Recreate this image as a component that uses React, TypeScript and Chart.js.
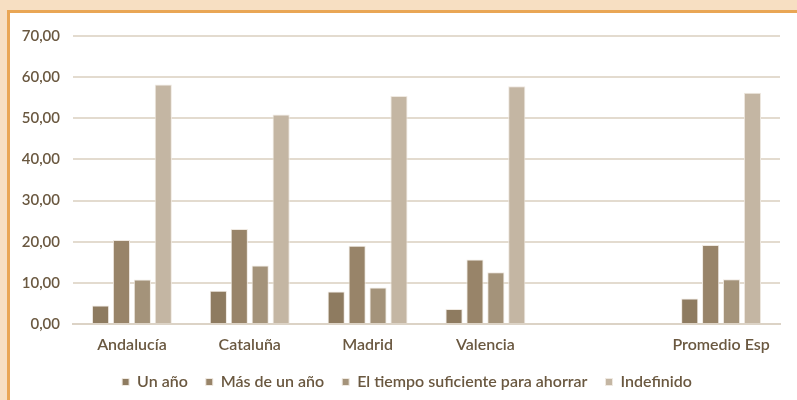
import React, { useEffect, useRef } from "react";
import { Chart, registerables } from "chart.js";

Chart.register(...registerables);

const categories = ["Andalucía", "Cataluña", "Madrid", "Valencia", "", "Promedio Esp"];
const seriesNames = ["Un año", "Más de un año", "El tiempo suficiente para ahorrar", "Indefinido"];
const unAno = [4.5, 8.1, 7.9, 3.65, null, 6.2];
const masDeUnAno = [20.4, 23.1, 19.0, 15.7, null, 19.2];
const tiempoSuficiente = [10.8, 14.2, 8.9, 12.6, null, 10.9];
const indefinido = [58.2, 50.9, 55.4, 57.8, null, 56.2];
const colors = ["#8E7B60", "#988469", "#A4937A", "#C4B6A3"];
const yTicks = [0, 10, 20, 30, 40, 50, 60, 70];

const FONT = "Lato, 'Open Sans', sans-serif";
const TEXT = "#6A5840";

const legendShift = {
  id: "legendShift",
  afterLayout(chart: any) {
    if (chart.legend) chart.legend.left = 34;
  },
};

export default function App() {
  const ref = useRef<HTMLCanvasElement>(null);
  useEffect(() => {
    if (!ref.current) return;
    const values = [unAno, masDeUnAno, tiempoSuficiente, indefinido];
    const chart = new Chart(ref.current, {
      type: "bar",
      data: {
        labels: categories,
        datasets: seriesNames.map((n, i) => ({
          label: n,
          data: values[i] as any,
          backgroundColor: colors[i],
          borderColor: "#EFE9E1",
          borderWidth: 1,
          barPercentage: 0.82,
          categoryPercentage: 0.71,
        })),
      },
      options: {
        animation: false,
        responsive: false,
        maintainAspectRatio: false,
        layout: { padding: { left: 10, right: 17, top: 36, bottom: 0 } },
        plugins: {
          tooltip: { enabled: false },
          legend: {
            position: "bottom",
            labels: {
              boxWidth: 7,
              boxHeight: 7,
              padding: 18,
              color: TEXT,
              font: { family: FONT, size: 16, weight: 600 as any },
            },
          },
        },
        scales: {
          x: {
            afterFit: (s: any) => { s.height = 32; },
            grid: { display: false, drawTicks: false },
            border: { color: "#DCD3C6", width: 2 },
            ticks: {
              color: TEXT,
              padding: 11,
              font: { family: FONT, size: 16, weight: 600 as any },
            },
          },
          y: {
            min: 0,
            max: 70,
            afterFit: (s: any) => { s.width = 63; },
            afterBuildTicks: (s: any) => { s.ticks = yTicks.map((v) => ({ value: v })); },
            grid: { color: "#E3DBCF", lineWidth: 2, drawTicks: false },
            border: { display: false },
            ticks: {
              color: TEXT,
              padding: 13,
              font: { family: FONT, size: 15, weight: 600 as any },
              callback: (v: any) => Number(v).toFixed(2).replace(".", ","),
            },
          },
        },
      },
      plugins: [legendShift],
    });
    return () => chart.destroy();
  }, []);
  return (
    <div style={{ position: "fixed", left: 0, top: 0, width: 797, height: 400, background: "#F7DFC2", overflow: "hidden" }}>
      <div style={{ position: "absolute", left: 7, top: 10, width: 820, height: 420, background: "#FFFFFF", borderLeft: "3px solid #E9A655", borderTop: "3px solid #E9A655" }} />
      <canvas ref={ref} width={797} height={400} style={{ position: "absolute", left: 0, top: 0 }} />
    </div>
  );
}
